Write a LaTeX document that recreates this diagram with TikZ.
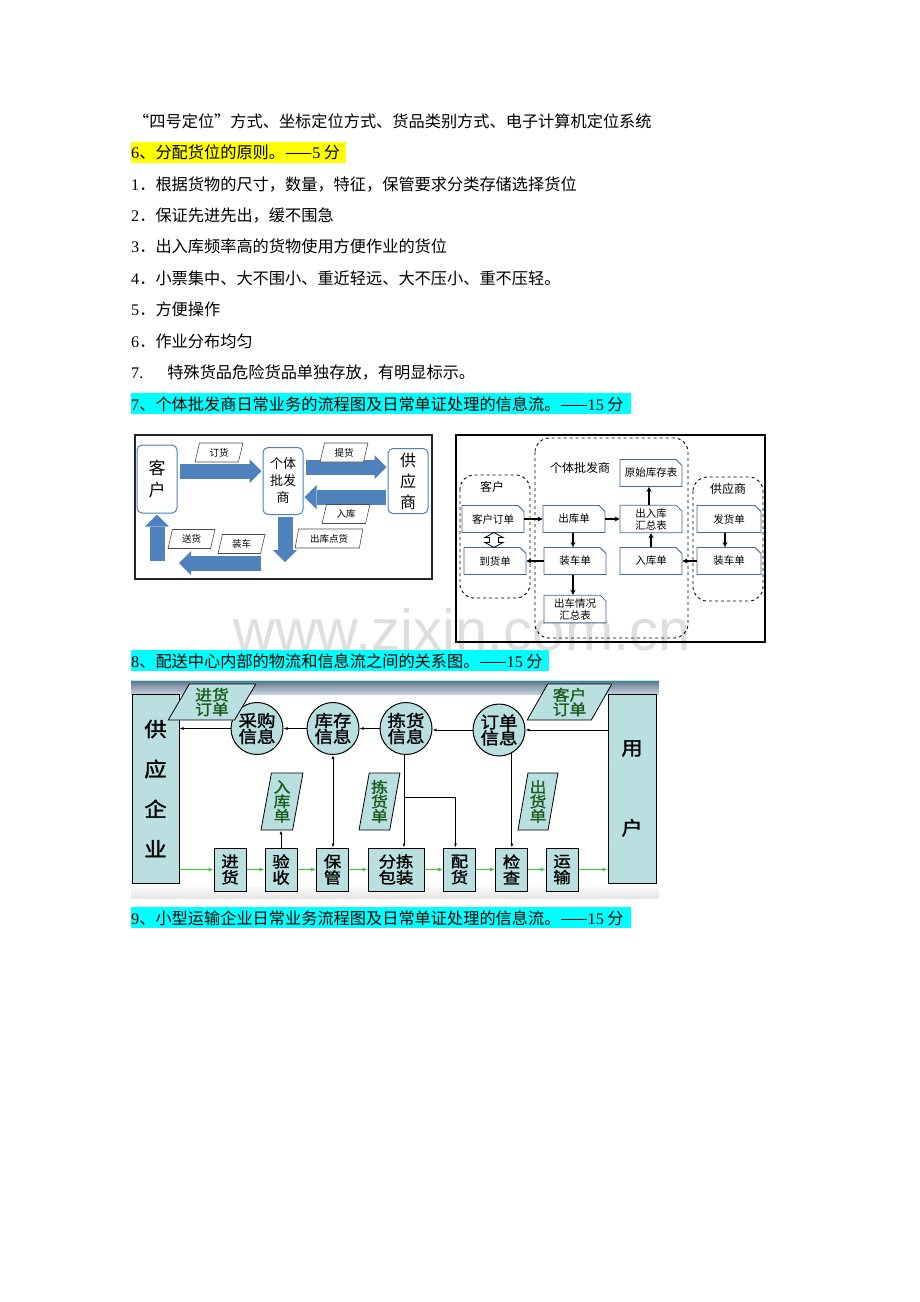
\documentclass[tikz,border=0pt]{standalone}
\usepackage{fontspec}
\setmainfont{Noto Sans CJK SC}
\newfontfamily\lat{Liberation Serif}
\newfontfamily\filigrana{Liberation Sans}
\newfontfamily\grassetto[FakeBold=1.5,FakeStretch=1.12]{Noto Sans CJK SC}
\usetikzlibrary{arrows.meta,shapes.geometric,shapes.misc,positioning,calc}

\definecolor{blu}{HTML}{4F81BD}
\definecolor{acqua}{HTML}{B9DFE1}
\definecolor{verdefreccia}{HTML}{2ECC2E}
\definecolor{verdescuro}{HTML}{1A5C1A}
\definecolor{giallo}{HTML}{FFFF00}
\definecolor{ciano}{HTML}{00FFFF}

\tikzset{
  riga/.style={anchor=base west, inner sep=0pt, font=\fontsize{16.2}{18}\selectfont},
  scatola1/.style={draw=blu, line width=1pt, rounded corners=5pt, fill=white, align=center, inner sep=0pt},
  blocco/.style={draw=blu, line width=15pt, shorten <=2pt, shorten >=1pt,
    -{Triangle[width=24pt,length=12pt,line width=0pt]}},
  etichetta/.style={trapezium, trapezium left angle=76, trapezium right angle=104, trapezium stretches,
    draw=black!70, line width=0.6pt, fill=white, minimum height=19pt, inner sep=0pt,
    font=\fontsize{9.5}{10}\selectfont},
  gruppo/.style={draw, dashed, rounded corners=14pt, line width=0.9pt},
  titolo/.style={inner sep=0pt, font=\fontsize{12}{13}\selectfont},
  doc/.style={chamfered rectangle, chamfered rectangle corners=north east, chamfered rectangle xsep=3pt,
    chamfered rectangle ysep=3pt, draw=blu!80!black, line width=0.8pt, fill=white,
    minimum width=62pt, minimum height=27pt, inner sep=0pt, align=center, font=\fontsize{10.5}{12}\selectfont},
  filo/.style={-{Stealth[length=5pt,width=5pt]}, line width=1.1pt},
  cerchio/.style={circle, draw, line width=1pt, fill=acqua, minimum size=52pt, inner sep=0pt, align=center,
    font=\grassetto\fontsize{16.5}{16}\selectfont},
  scatola3/.style={draw, line width=1pt, fill=acqua, minimum width=32pt, minimum height=43pt, inner sep=0pt,
    align=center, font=\grassetto\fontsize{15.5}{16}\selectfont},
  scheda/.style={trapezium, trapezium stretches, draw, line width=0.8pt, fill=acqua, inner sep=0pt,
    align=center, text=verdescuro, font=\grassetto\fontsize{15}{14.5}\selectfont},
  nero/.style={-{Latex[length=4pt,width=3pt]}, line width=1pt},
  verde/.style={-{Latex[length=5pt,width=4pt]}, draw=verdefreccia, line width=1pt}
}

\begin{document}
\begin{tikzpicture}[x=1pt,y=-1pt]
  \useasboundingbox (0,0) rectangle (920,1302);
  \fill[white] (0,0) rectangle (920,1302);

  % filigrana
  \node[anchor=base west, inner sep=0pt, text=black!13, font=\filigrana\fontsize{58}{60}\selectfont] (marchio) at (233,650) {www.zixin.com.cn};

  % testo
  \fill[giallo] (131,142) rectangle (346,163);
  \fill[ciano] (131,393) rectangle (631,414);
  \fill[ciano] (131,650) rectangle (549,671);
  \fill[ciano] (131,907) rectangle (631,928);
  \node[riga] (t0) at (133,127) {“四号定位”方式、坐标定位方式、货品类别方式、电子计算机定位系统};
  \node[riga] (t1) at (131,158.5) {{\lat 6}、分配货位的原则。——{\lat 5} 分};
  \node[riga] (t2) at (131,190) {{\lat 1}．根据货物的尺寸，数量，特征，保管要求分类存储选择货位};
  \node[riga] (t3) at (131,221) {{\lat 2}．保证先进先出，缓不围急};
  \node[riga] (t4) at (131,252) {{\lat 3}．出入库频率高的货物使用方便作业的货位};
  \node[riga] (t5) at (131,284) {{\lat 4}．小票集中、大不围小、重近轻远、大不压小、重不压轻。};
  \node[riga] (t6) at (131,315) {{\lat 5}．方便操作};
  \node[riga] (t7) at (131,347) {{\lat 6}．作业分布均匀};
  \node[riga] (t8) at (131,378) {{\lat 7.}\hspace*{24pt}特殊货品危险货品单独存放，有明显标示。};
  \node[riga] (t9) at (131,410) {{\lat 7}、个体批发商日常业务的流程图及日常单证处理的信息流。——{\lat 15} 分};
  \node[riga] (t10) at (131,667) {{\lat 8}、配送中心内部的物流和信息流之间的关系图。——{\lat 15} 分};
  \node[riga] (t11) at (131,924) {{\lat 9}、小型运输企业日常业务流程图及日常单证处理的信息流。——{\lat 15} 分};

  % schema 1
  \draw[line width=1.3pt, black!85] (135,435) rectangle (432,579);
  \node[scatola1, minimum width=40pt, minimum height=68pt, font=\fontsize{17}{22}\selectfont] (kehu) at (157,479) {客\\户};
  \node[scatola1, minimum width=40pt, minimum height=67pt, font=\fontsize{13}{17}\selectfont] (pifa) at (283,481) {个体\\批发\\商};
  \node[scatola1, minimum width=40pt, minimum height=65pt, font=\fontsize{16}{21}\selectfont] (gongying) at (408,481) {供\\应\\商};
  \coordinate (giu) at (285,563);
  \coordinate (sx1) at (261,563);
  \coordinate (sx2) at (179,563);
  \coordinate (su) at (157,563);
  \draw[blocco] ([yshift=8pt]kehu.east) -- ([yshift=10pt]pifa.west);
  \draw[blocco] ([yshift=14pt]pifa.east) -- ([yshift=14pt]gongying.west);
  \draw[blocco] ([yshift=-16pt]gongying.west) -- ([yshift=-16pt]pifa.east);
  \draw[blocco] ([xshift=2pt]pifa.south) -- (giu);
  \draw[blocco, shorten <=0pt, shorten >=0pt] (sx1) -- (sx2);
  \draw[blocco] (su) -- (kehu.south);
  \node[etichetta, minimum width=48pt] (dinghuo) at (219,452.5) {订货};
  \node[etichetta, minimum width=48pt] (tihuo) at (344,452.5) {提货};
  \node[etichetta, minimum width=48pt] (ruku) at (346,514) {入库};
  \node[etichetta, minimum width=68pt] (chukudian) at (329,538.5) {出库点货};
  \node[etichetta, minimum width=47pt] (songhuo) at (191.5,539) {送货};
  \node[etichetta, minimum width=47pt] (zhuangche) at (241.5,544) {装车};

  % schema 2
  \draw[line width=1.2pt] (456,435) rectangle (765,642);
  \draw[gruppo] (460,475) rectangle (530,598);
  \draw[gruppo] (535,438) rectangle (688,638);
  \draw[gruppo] (693,477) rectangle (763,601);
  \node[titolo] (gkehu) at (492,487) {客户};
  \node[titolo] (gpifa) at (580,468) {个体批发商};
  \node[titolo] (ggongying) at (728,489) {供应商};
  \node[doc] (khdd) at (493,519) {客户订单};
  \node[doc] (dhd) at (495,561) {到货单};
  \node[doc] (ckd) at (574,519) {出库单};
  \node[doc] (zcd) at (575,561) {装车单};
  \node[doc] (cchz) at (575,609) {出车情况\\汇总表};
  \node[doc] (yskc) at (651,473) {原始库存表};
  \node[doc] (crk) at (651,519) {出入库\\汇总表};
  \node[doc] (rkd) at (651,561) {入库单};
  \node[doc, minimum width=64pt] (fhd) at (729,519) {发货单};
  \node[doc, minimum width=64pt] (zcd2) at (729,561) {装车单};
  \draw[filo] (khdd.east) -- (ckd.west);
  \draw[filo] (ckd.east) -- (crk.west);
  \draw[filo] ([xshift=-2pt]crk.north) -- ([xshift=-2pt]yskc.south);
  \draw[filo] (rkd.north) -- (crk.south);
  \draw[filo] ([xshift=-1pt]ckd.south) -- ([xshift=-1pt]ckd.south |- zcd.north);
  \draw[filo] (zcd.west) -- (dhd.east);
  \draw[filo] ([xshift=-2pt]zcd.south) -- ([xshift=-2pt]cchz.north);
  \draw[filo] (zcd2.west) -- (rkd.east);
  \draw[filo] ([xshift=-4pt]fhd.south) -- ([xshift=-4pt]zcd2.north);
  \coordinate (dm) at ($(khdd.south)!0.5!(dhd.north)$);
  \draw[fill=white, line width=0.8pt] ($(dm)+(0,-7.5)$) -- ++(9,5) -- ++(-4.5,0) -- ++(0,5) -- ++(4.5,0)
    -- ++(-9,5) -- ++(-9,-5) -- ++(4.5,0) -- ++(0,-5) -- ++(-4.5,0) -- cycle;

  % schema 3
  \fill[white] (131,680) rectangle (659,898);
  \shade[top color=white, bottom color=black!10] (131,884) rectangle (659,898);
  \shade[top color=black!55!blu!70, bottom color=black!20!blu!30] (131,681) rectangle (659,694);
  \draw[ciano!50] (131,680.5) -- (659,680.5);
  \node[draw, line width=1pt, fill=acqua, minimum width=47pt, minimum height=189pt, inner sep=0pt, align=center,
    font=\grassetto\fontsize{20}{40}\selectfont] (gyqy) at (155.5,788.5) {供\\应\\企\\业};
  \node[draw, line width=1pt, fill=acqua, minimum width=48pt, minimum height=189pt, inner sep=0pt, align=center,
    font=\grassetto\fontsize{19}{80}\selectfont] (yonghu) at (632,788.5) {用\\户};
  \node[cerchio] (cgxx) at (257,728.5) {采购\\信息};
  \node[cerchio] (kcxx) at (333,728.5) {库存\\信息};
  \node[cerchio] (jhxx) at (406,728.5) {拣货\\信息};
  \node[cerchio] (ddxx) at (499,730) {订单\\信息};
  \node[scheda, trapezium left angle=61, trapezium right angle=119, minimum width=88pt, minimum height=36pt] (jhdd) at (212,702) {进货\\订单};
  \node[scheda, trapezium left angle=61, trapezium right angle=119, minimum width=85pt, minimum height=36pt] (khdd3) at (569.5,702) {客户\\订单};
  \node[scheda, trapezium left angle=79, trapezium right angle=101, minimum width=42pt, minimum height=57pt] (rkd3) at (282,801.5) {入\\库\\单};
  \node[scheda, trapezium left angle=79, trapezium right angle=101, minimum width=41pt, minimum height=57pt] (jhd) at (379.5,801.5) {拣\\货\\单};
  \node[scheda, trapezium left angle=79, trapezium right angle=101, minimum width=40pt, minimum height=57pt] (chd) at (538,801.5) {出\\货\\单};
  \node[scatola3] (jinhuo) at (230,869.5) {进\\货};
  \node[scatola3] (yanshou) at (281,869.5) {验\\收};
  \node[scatola3] (baoguan) at (332.5,869.5) {保\\管};
  \node[scatola3, minimum width=56pt] (fenjian) at (396,869.5) {分拣\\包装};
  \node[scatola3] (peihuo) at (459.5,869.5) {配\\货};
  \node[scatola3] (jiancha) at (511.5,869.5) {检\\查};
  \node[scatola3] (yunshu) at (562,869.5) {运\\输};
  \coordinate (bivio) at (404,797);
  % flusso fisico
  \draw[verde] (gyqy.east |- jinhuo.west) -- (jinhuo.west);
  \draw[verde] (jinhuo.east) -- (yanshou.west);
  \draw[verde] (yanshou.east) -- (baoguan.west);
  \draw[verde] (baoguan.east) -- (fenjian.west);
  \draw[verde] (fenjian.east) -- (peihuo.west);
  \draw[verde] (peihuo.east) -- (jiancha.west);
  \draw[verde] (jiancha.east) -- (yunshu.west);
  \draw[verde] (yunshu.east) -- (yunshu.east -| yonghu.west);
  % flusso informativo
  \draw[nero] (yonghu.west |- ddxx.east) -- (ddxx.east);
  \draw[nero] (ddxx.west) -- (ddxx.west -| jhxx.east);
  \draw[nero] (jhxx.west) -- (kcxx.east);
  \draw[nero] (kcxx.west) -- (cgxx.east);
  \draw[nero] (cgxx.west) -- (cgxx.west -| gyqy.east);
  \draw[nero, {Latex[length=4pt,width=3pt]}-{Latex[length=4pt,width=3pt]}] (kcxx.south) -- (kcxx.south |- baoguan.north);
  \draw[nero] (yanshou.north) -- (yanshou.north |- rkd3.south);
  \draw[nero] ([xshift=-2pt]jhxx.south) -- ([xshift=-2pt]jhxx.south |- fenjian.north);
  \draw[nero] (bivio) -| ([xshift=-4pt]peihuo.north);
  \draw[nero] (ddxx.-61) -- (ddxx.-61 |- jiancha.north);
\end{tikzpicture}
\end{document}
